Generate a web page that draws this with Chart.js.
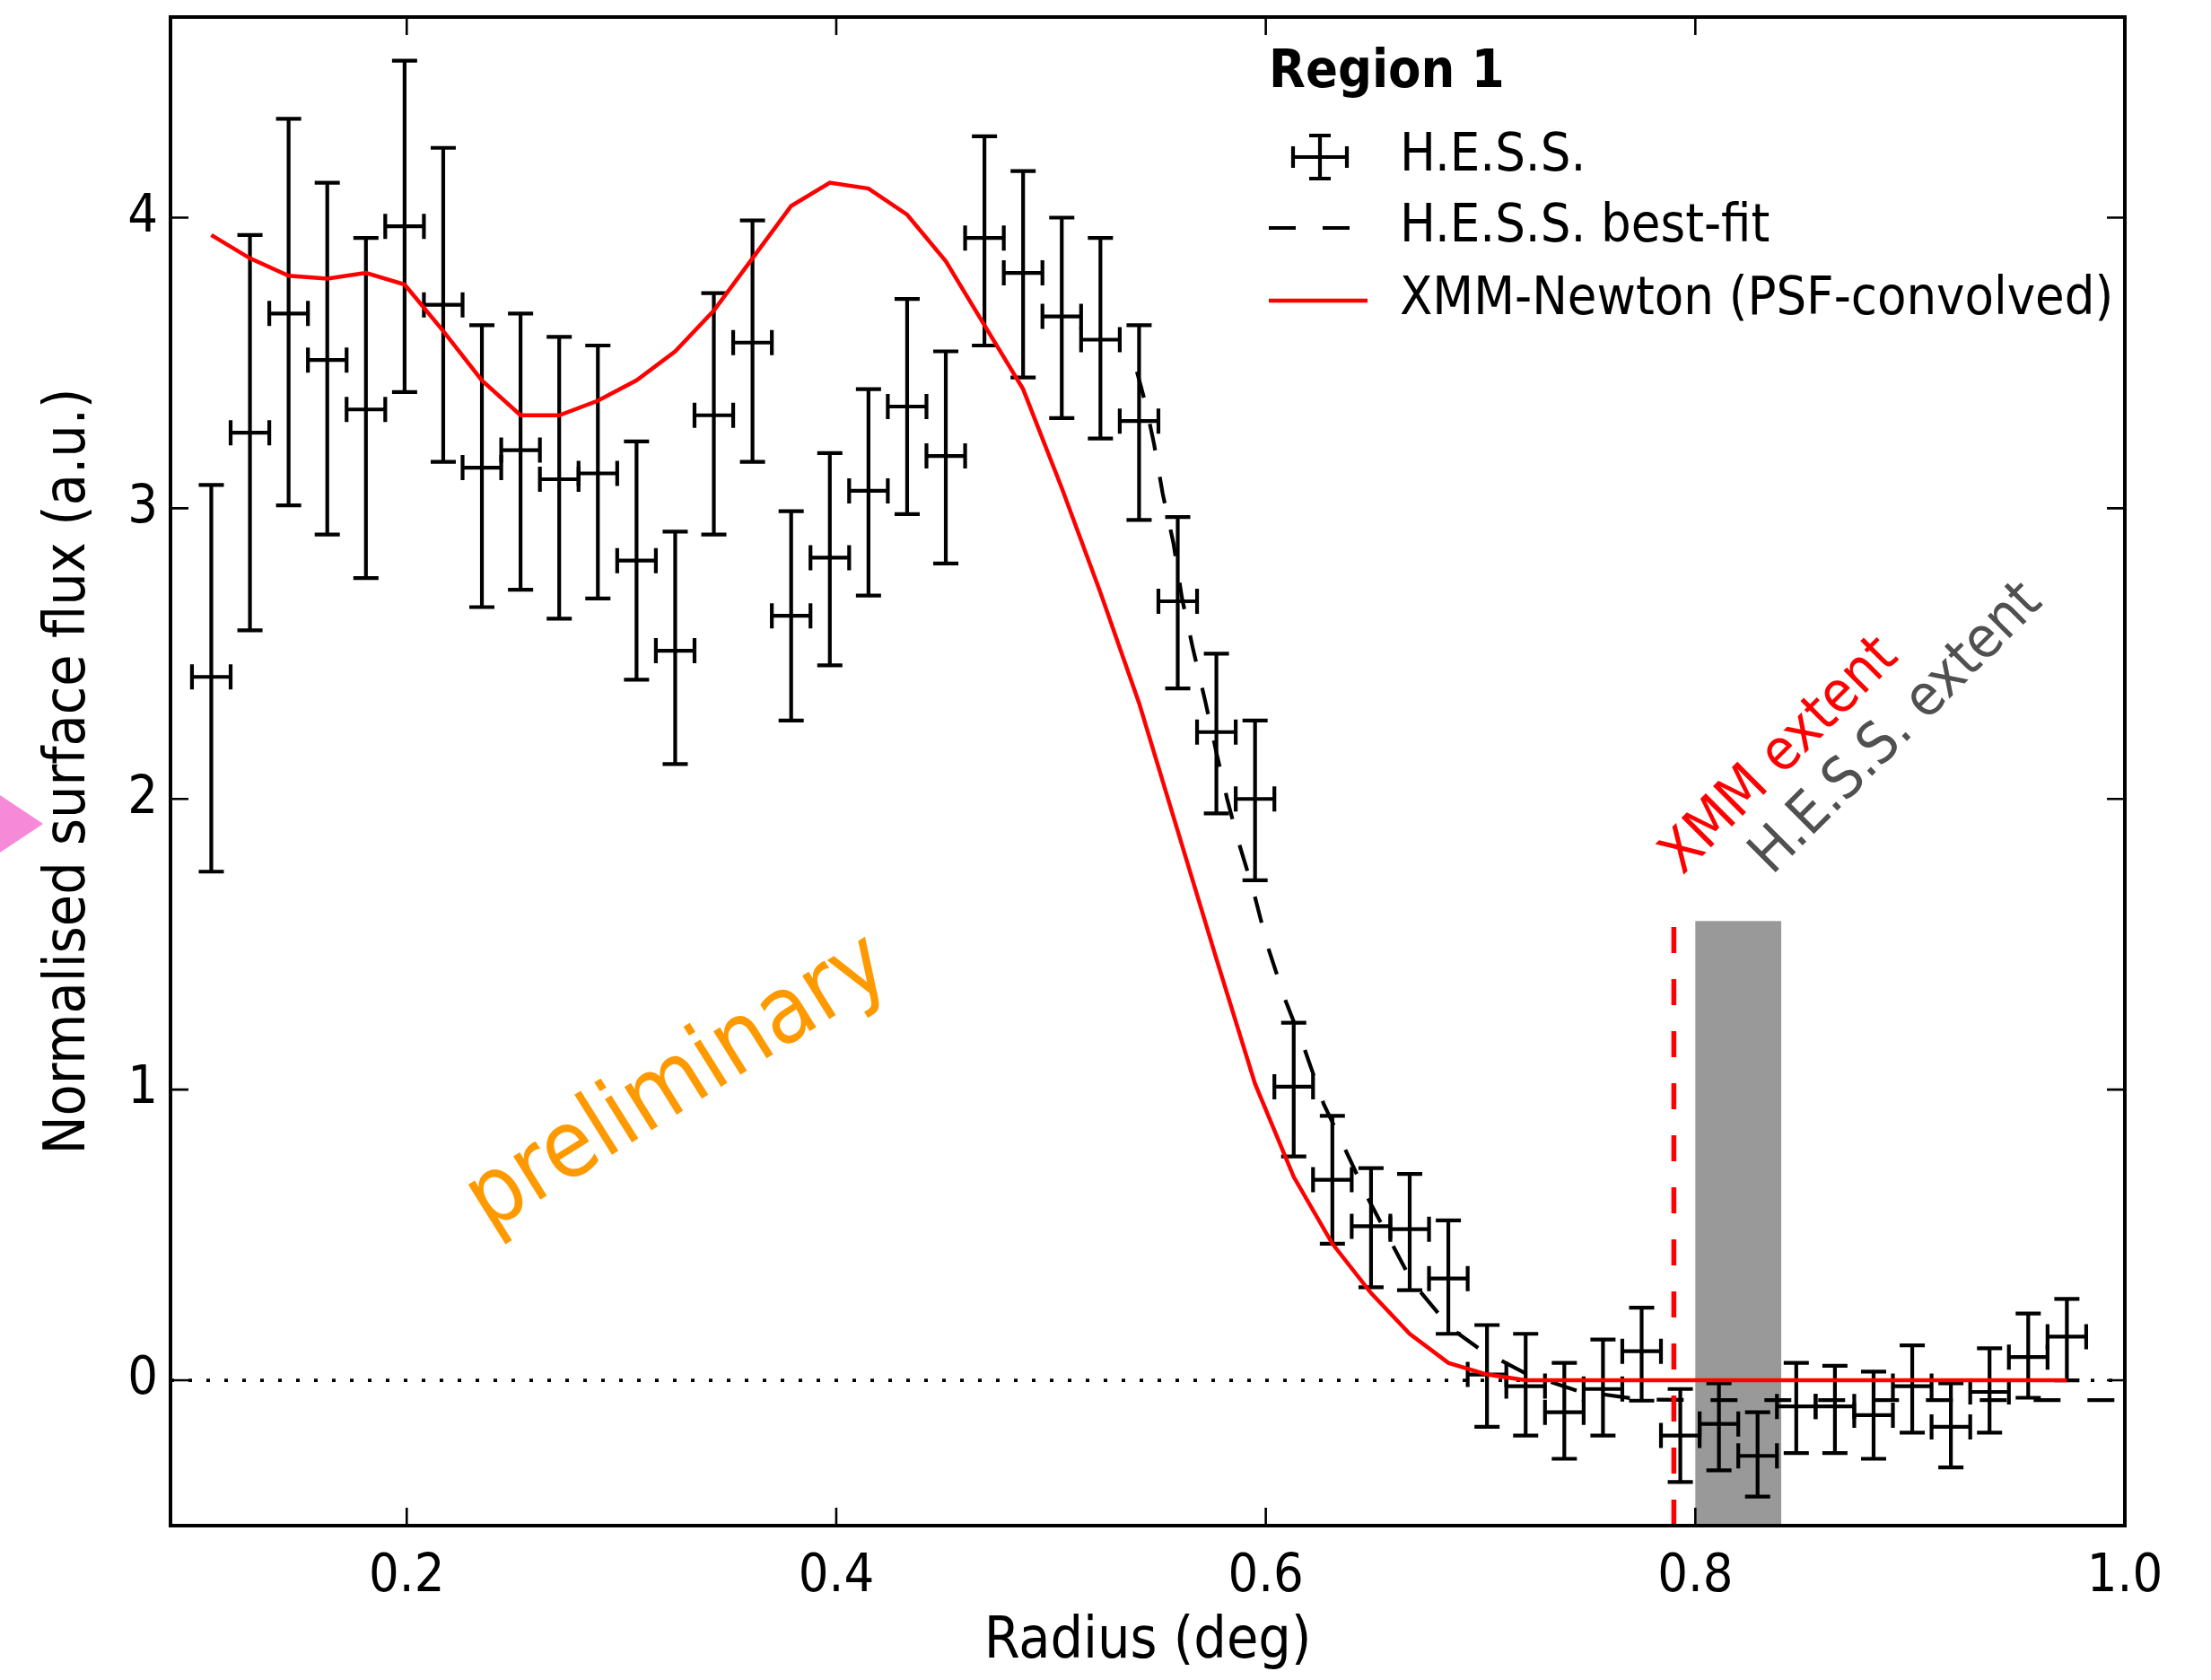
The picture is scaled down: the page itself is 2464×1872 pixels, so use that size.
<!DOCTYPE html>
<html>
<head>
<meta charset="utf-8">
<script src="https://cdn.jsdelivr.net/npm/chart.js@4.4.1/dist/chart.umd.min.js"></script>
<style>
  html, body { margin: 0; padding: 0; background: #ffffff; }
  #wrap { width: 2464px; height: 1872px; position: relative; }
  canvas { display: block; }
</style>
</head>
<body>
<div id="wrap"><canvas id="c" width="2464" height="1872"></canvas></div>
<script>
// ---------------- data ----------------
const binCenters = [0.109,0.127,0.145,0.163,0.181,0.199,0.217,0.235,0.253,0.271,
  0.289,0.307,0.325,0.343,0.361,0.379,0.397,0.415,0.433,0.451,
  0.469,0.487,0.505,0.523,0.541,0.559,0.577,0.595,0.613,0.631,
  0.649,0.667,0.685,0.703,0.721,0.739,0.757,0.775,0.793,0.811,
  0.829,0.847,0.865,0.883,0.901,0.919,0.937,0.955,0.973];
const binHalfWidth = 0.009;

const hessFlux = [2.42,3.26,3.67,3.51,3.34,3.97,3.70,3.14,3.20,3.10,
  3.12,2.82,2.51,3.32,3.57,2.63,2.83,3.06,3.35,3.18,
  3.93,3.81,3.66,3.58,3.30,2.68,2.23,2.00,1.01,0.69,
  0.53,0.52,0.35,0.02,-0.02,-0.11,-0.03,0.10,-0.19,-0.15,
  -0.26,-0.09,-0.09,-0.12,-0.02,-0.16,-0.04,0.08,0.15];
const hessUpper = [3.08,3.94,4.34,4.12,3.93,4.54,4.24,3.63,3.67,3.59,
  3.56,3.23,2.92,3.74,3.99,2.99,3.19,3.41,3.72,3.54,
  4.28,4.16,4.00,3.93,3.63,2.97,2.50,2.27,1.23,0.91,
  0.73,0.71,0.55,0.19,0.16,0.06,0.14,0.25,-0.03,-0.01,
  -0.11,0.06,0.05,0.03,0.12,-0.01,0.11,0.23,0.28];
const hessLower = [1.75,2.58,3.01,2.91,2.76,3.40,3.16,2.66,2.72,2.62,
  2.69,2.41,2.12,2.91,3.16,2.27,2.46,2.70,2.98,2.81,
  3.56,3.45,3.31,3.24,2.96,2.38,1.95,1.72,0.77,0.47,
  0.32,0.31,0.16,-0.16,-0.19,-0.27,-0.19,-0.07,-0.35,-0.31,
  -0.40,-0.25,-0.25,-0.27,-0.18,-0.30,-0.18,-0.06,0.00];

const xmmFlux = [3.94,3.86,3.80,3.79,3.81,3.77,3.61,3.44,3.32,3.32,
  3.37,3.44,3.54,3.68,3.86,4.04,4.12,4.10,4.01,3.85,
  3.63,3.41,3.07,2.71,2.33,1.89,1.45,1.02,0.70,0.47,
  0.30,0.16,0.06,0.02,0.00,0.00,0.00,0.00,0.00,0.00,
  0.00,0.00,0.00,0.00,0.00,0.00,0.00,0.00,0.00];

const fitRadius = [0.540,0.544,0.548,0.552,0.557,0.561,0.566,0.572,0.577,0.582,
  0.587,0.594,0.601,0.609,0.618,0.627,0.636,0.648,0.658,0.668,
  0.686,0.701,0.709,0.722,0.745,0.774,0.800,1.000];
const fitFlux = [3.47,3.36,3.22,3.05,2.88,2.69,2.52,2.33,2.16,2.00,
  1.86,1.69,1.49,1.31,1.14,0.95,0.81,0.62,0.48,0.34,
  0.18,0.10,0.07,0.02,-0.036,-0.066,-0.068,-0.068];

const xTickValues = [0.2, 0.4, 0.6, 0.8, 1.0];
const yTickValues = [0, 1, 2, 3, 4];

const xmmExtent = 0.79;
const hessExtentRange = [0.80, 0.84];
const extentTop = 1.58;

// ---------------- fonts ----------------
function pickFamily() {
  const c = document.createElement('canvas').getContext('2d');
  const s = 'Normalised surface flux (a.u.)';
  c.font = '60px "DejaVu Sans Condensed", "DejaVu Sans"';
  const a = c.measureText(s).width;
  c.font = '60px "DejaVu Sans"';
  const b = c.measureText(s).width;
  if (a < b * 0.97) return { family: '"DejaVu Sans Condensed", "DejaVu Sans", sans-serif', k: 1 };
  return { family: '"DejaVu Sans", sans-serif', k: 0.9 };
}
const FAM = pickFamily();
const fs = v => Math.round(v * FAM.k);
const TICK_SIZE = fs(59), TITLE_SIZE = fs(64), LEG_SIZE = fs(59), ANN_SIZE = fs(64), PRELIM_SIZE = fs(104);

Chart.defaults.font.family = FAM.family;
Chart.defaults.color = '#000';

const CAP = 14;
const LW = 4.2;

// ---------------- plugin for error bars, band, annotations, frame ----------------
const decor = {
  id: 'decor',
  beforeDatasetsDraw(chart) {
    const { ctx, chartArea: ca, scales: { x, y } } = chart;
    ctx.save();
    // H.E.S.S. extent band
    const bx0 = x.getPixelForValue(hessExtentRange[0]);
    const bx1 = x.getPixelForValue(hessExtentRange[1]);
    const by0 = y.getPixelForValue(extentTop);
    ctx.fillStyle = '#999999';
    ctx.fillRect(bx0, by0, bx1 - bx0, ca.bottom - by0);
    // error bars
    ctx.strokeStyle = '#000';
    ctx.lineWidth = LW;
    ctx.lineCap = 'butt';
    for (let i = 0; i < binCenters.length; i++) {
      const px = x.getPixelForValue(binCenters[i]);
      const py = y.getPixelForValue(hessFlux[i]);
      const pt = y.getPixelForValue(hessUpper[i]);
      const pb = y.getPixelForValue(hessLower[i]);
      const pl = x.getPixelForValue(binCenters[i] - binHalfWidth);
      const pr = x.getPixelForValue(binCenters[i] + binHalfWidth);
      ctx.beginPath();
      ctx.moveTo(px, pt); ctx.lineTo(px, pb);
      ctx.moveTo(pl, py); ctx.lineTo(pr, py);
      ctx.moveTo(px - CAP, pt); ctx.lineTo(px + CAP, pt);
      ctx.moveTo(px - CAP, pb); ctx.lineTo(px + CAP, pb);
      ctx.moveTo(pl, py - CAP); ctx.lineTo(pl, py + CAP);
      ctx.moveTo(pr, py - CAP); ctx.lineTo(pr, py + CAP);
      ctx.stroke();
    }
    ctx.restore();
  },
  afterDraw(chart) {
    const { ctx, chartArea: ca, scales: { x, y } } = chart;
    ctx.save();
    // frame
    ctx.strokeStyle = '#000';
    ctx.lineWidth = 4;
    ctx.strokeRect(ca.left, ca.top, ca.right - ca.left, ca.bottom - ca.top);
    // inward ticks on all sides
    ctx.lineWidth = 2.6;
    const TL = 20;
    ctx.beginPath();
    xTickValues.forEach(v => {
      const p = x.getPixelForValue(v);
      ctx.moveTo(p, ca.bottom); ctx.lineTo(p, ca.bottom - TL);
      ctx.moveTo(p, ca.top); ctx.lineTo(p, ca.top + TL);
    });
    yTickValues.forEach(v => {
      const p = y.getPixelForValue(v);
      ctx.moveTo(ca.left, p); ctx.lineTo(ca.left + TL, p);
      ctx.moveTo(ca.right, p); ctx.lineTo(ca.right - TL, p);
    });
    ctx.stroke();

    // rotated annotations
    const rot = (text, px, py, deg, size, color, align, base) => {
      ctx.save();
      ctx.translate(px, py);
      ctx.rotate(-deg * Math.PI / 180);
      ctx.font = size + 'px ' + FAM.family;
      ctx.fillStyle = color;
      ctx.textAlign = align;
      ctx.textBaseline = base;
      ctx.fillText(text, 0, 0);
      ctx.restore();
    };
    rot('XMM extent', x.getPixelForValue(0.794), y.getPixelForValue(1.735), 45, ANN_SIZE, '#ff0000', 'left', 'alphabetic');
    rot('H.E.S.S. extent', x.getPixelForValue(0.8357), y.getPixelForValue(1.735), 45, ANN_SIZE, '#505050', 'left', 'alphabetic');
    rot('preliminary', x.getPixelForValue(0.3266), y.getPixelForValue(1.017), 32, PRELIM_SIZE, '#ff9900', 'center', 'middle');

    // legend
    const L = { left: 1414, text: 1560, title: 82, rows: [175, 254, 335] };
    ctx.fillStyle = '#000';
    ctx.textAlign = 'left';
    ctx.textBaseline = 'middle';
    ctx.font = 'bold ' + LEG_SIZE + 'px ' + FAM.family;
    ctx.fillText('Region 1', L.left, L.title);
    ctx.font = LEG_SIZE + 'px ' + FAM.family;
    ctx.fillText('H.E.S.S.', L.text, L.rows[0]);
    ctx.fillText('H.E.S.S. best-fit', L.text, L.rows[1]);
    ctx.fillText('XMM-Newton (PSF-convolved)', L.text, L.rows[2]);
    // error-bar handle
    const hx = 1471, hy = L.rows[0];
    ctx.strokeStyle = '#000';
    ctx.lineWidth = LW;
    ctx.beginPath();
    ctx.moveTo(hx, hy - 24); ctx.lineTo(hx, hy + 24);
    ctx.moveTo(hx - 30, hy); ctx.lineTo(hx + 30, hy);
    ctx.moveTo(hx - 12, hy - 24); ctx.lineTo(hx + 12, hy - 24);
    ctx.moveTo(hx - 12, hy + 24); ctx.lineTo(hx + 12, hy + 24);
    ctx.moveTo(hx - 30, hy - 12); ctx.lineTo(hx - 30, hy + 12);
    ctx.moveTo(hx + 30, hy - 12); ctx.lineTo(hx + 30, hy + 12);
    ctx.stroke();
    // dashed handle
    ctx.setLineDash([30, 30]);
    ctx.beginPath();
    ctx.moveTo(L.left, L.rows[1]); ctx.lineTo(L.left + 95, L.rows[1]);
    ctx.stroke();
    ctx.setLineDash([]);
    // red handle
    ctx.strokeStyle = '#ff0000';
    ctx.lineWidth = 4.5;
    ctx.beginPath();
    ctx.moveTo(L.left, L.rows[2]); ctx.lineTo(L.left + 110, L.rows[2]);
    ctx.stroke();

    // pink pointer at the left edge
    ctx.fillStyle = '#f68ad8';
    ctx.beginPath();
    ctx.moveTo(0, 886); ctx.lineTo(48, 918); ctx.lineTo(0, 950);
    ctx.closePath();
    ctx.fill();
    ctx.restore();
  }
};

// ---------------- chart ----------------
const xmmPoints = binCenters.map((r, i) => ({ x: r, y: xmmFlux[i] }));
const fitPoints = fitRadius.map((r, i) => ({ x: r, y: fitFlux[i] }));

new Chart(document.getElementById('c'), {
  type: 'scatter',
  data: {
    datasets: [
      { label: 'XMM-Newton (PSF-convolved)', data: xmmPoints, showLine: true, borderColor: '#ff0000',
        borderWidth: 4.5, pointRadius: 0, tension: 0, order: 0 },
      { label: 'XMM extent', data: [{ x: xmmExtent, y: -0.5 }, { x: xmmExtent, y: extentTop }], showLine: true,
        borderColor: '#ff0000', borderWidth: 5.5, borderDash: [29, 29], pointRadius: 0, order: 1 },
      { label: 'H.E.S.S. best-fit', data: fitPoints, showLine: true, borderColor: '#000000',
        borderWidth: LW, borderDash: [30, 30], pointRadius: 0, tension: 0, order: 2 },
      { label: 'zero', data: [{ x: 0.09, y: 0 }, { x: 1.0, y: 0 }], showLine: true, borderColor: '#000000',
        borderWidth: 3.8, borderDash: [4, 16], pointRadius: 0, order: 3 }
    ]
  },
  options: {
    responsive: false,
    animation: false,
    devicePixelRatio: 1,
    layout: { padding: { left: 0, right: 96, top: 19, bottom: 0 } },
    plugins: { legend: { display: false }, tooltip: { enabled: false } },
    scales: {
      x: {
        type: 'linear', min: 0.09, max: 1.0,
        grid: { display: false, drawTicks: false },
        border: { display: false },
        afterBuildTicks: s => { s.ticks = xTickValues.map(v => ({ value: v })); },
        afterFit: s => { s.height = 172; },
        ticks: { font: { size: TICK_SIZE }, color: '#000', padding: 22, maxRotation: 0, autoSkip: false,
                 callback: v => Number(v).toFixed(1) },
        title: { display: true, text: 'Radius (deg)', font: { size: TITLE_SIZE }, color: '#000',
                 padding: { top: 0, bottom: 3 } }
      },
      y: {
        type: 'linear', min: -0.5, max: 4.69,
        grid: { display: false, drawTicks: false },
        border: { display: false },
        afterBuildTicks: s => { s.ticks = yTickValues.map(v => ({ value: v })); },
        afterFit: s => { s.width = 190; s.paddingTop = 0; s.paddingBottom = 0; },
        ticks: { font: { size: TICK_SIZE }, color: '#000', padding: 14, autoSkip: false,
                 callback: v => String(v) },
        title: { display: true, text: 'Normalised surface flux (a.u.)', font: { size: TITLE_SIZE }, color: '#000',
                 padding: { top: 39, bottom: 0 } }
      }
    }
  },
  plugins: [decor]
});
</script>
</body>
</html>
